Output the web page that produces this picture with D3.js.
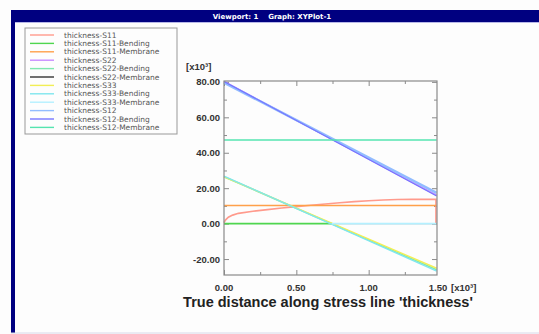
<!DOCTYPE html>
<html>
<head>
<meta charset="utf-8">
<script src="https://cdn.jsdelivr.net/npm/d3@7"></script>
<style>
  body { margin: 0; background: #fdfdfd; }
  svg { display: block; }
</style>
</head>
<body>
<div id="chart"></div>
<script>
// legend names and colours (same order as the legend)
const seriesNames = [
  "thickness-S11", "thickness-S11-Bending", "thickness-S11-Membrane",
  "thickness-S22", "thickness-S22-Bending", "thickness-S22-Membrane",
  "thickness-S33", "thickness-S33-Bending", "thickness-S33-Membrane",
  "thickness-S12", "thickness-S12-Bending", "thickness-S12-Membrane"
];
const seriesColors = [
  "#ff9a8c", "#4fd64f", "#ffa04a",
  "#c88cff", "#7fe8b0", "#333333",
  "#f2ee55", "#7fe6ee", "#b4f0ff",
  "#92bcff", "#7474ff", "#55e4b0"
];

// x values (thickness, x10^3) and y values (stress, x10^6) per series
const s11X = [0, 0.01, 0.03, 0.06, 0.1, 0.2, 0.3, 0.4, 0.5, 0.6, 0.7, 0.8, 0.9, 1.0, 1.1, 1.2, 1.3, 1.4, 1.465, 1.465];
const s11Y = [0.5, 2.0, 3.6, 4.8, 5.8, 7.0, 7.9, 8.8, 9.6, 10.4, 11.1, 11.8, 12.4, 12.9, 13.3, 13.6, 13.7, 13.7, 13.7, 0];
const s11BendX = [0, 0.745];
const s11BendY = [0, 0];
const s11MemX = [0, 1.47];
const s11MemY = [10.2, 10.2];
const s22X = [0, 1.47];
const s22Y = [80.2, 16.0];
const s22BendX = [0, 1.47];
const s22BendY = [26.5, -26.0];
const s22MemX = [0.745, 1.47];
const s22MemY = [0, 0];
const s33X = [0, 1.47];
const s33Y = [26.4, -25.2];
const s33BendX = [0, 1.47];
const s33BendY = [26.8, -26.8];
const s33MemX = [0.745, 1.47];
const s33MemY = [0, 0];
const s12X = [0, 1.47];
const s12Y = [79.6, 17.4];
const s12BendX = [0, 1.47];
const s12BendY = [80.2, 15.6];
const s12MemX = [0, 1.47];
const s12MemY = [47.2, 47.2];

const seriesX = [s11X, s11BendX, s11MemX, s22X, s22BendX, s22MemX, s33X, s33BendX, s33MemX, s12X, s12BendX, s12MemX];
const seriesY = [s11Y, s11BendY, s11MemY, s22Y, s22BendY, s22MemY, s33Y, s33BendY, s33MemY, s12Y, s12BendY, s12MemY];

const xTicks = [0, 0.5, 1.0, 1.5];
const xMinorTicks = [0.25, 0.75, 1.25];
const yTicks = [-20, 0, 20, 40, 60, 80];
const yMinorTicks = [-10, 10, 30, 50, 70];

const titleText = "Viewport: 1    Graph: XYPlot-1";
const xTitle = "True distance along stress line 'thickness'";
const unitLabel = "[x10\u00b3]";

const config = {
  width: 539,
  height: 334,
  plot: { left: 224, right: 437, top: 81, bottom: 275 },
  legend: { x: 25, y: 28, width: 152, height: 106, rowStep: 8.4 }
};

const svg = d3.select("#chart")
  .append("svg")
  .attr("width", config.width)
  .attr("height", config.height);

// -- Window frame --
svg.append("rect")
  .attr("x", 11).attr("y", 10)
  .attr("width", config.width - 11).attr("height", 323)
  .style("fill", "#fdfdfd");
svg.append("rect")
  .attr("x", 11).attr("y", 10)
  .attr("width", config.width - 11).attr("height", 12)
  .style("fill", "#000080");
svg.append("line")
  .attr("x1", 15).attr("x2", config.width)
  .attr("y1", 22.5).attr("y2", 22.5)
  .style("stroke", "#b8b8e8");
svg.append("rect")
  .attr("x", 11).attr("y", 10)
  .attr("width", 4).attr("height", 323)
  .style("fill", "#000080");
svg.append("line")
  .attr("x1", 11).attr("x2", config.width)
  .attr("y1", 333).attr("y2", 333)
  .style("stroke", "#d8d8e8");
svg.append("text")
  .attr("x", 272).attr("y", 19)
  .attr("text-anchor", "middle")
  .style("font-family", "'DejaVu Sans', sans-serif")
  .style("font-size", "7px")
  .style("font-weight", "bold")
  .style("fill", "#ffffff")
  .style("white-space", "pre")
  .text(titleText);

// -- Scales --
const p = config.plot;
const xScale = d3.scaleLinear().domain([0, 1.5]).range([p.left, 441]);
const yScale = d3.scaleLinear().domain([-29, 80.5]).range([p.bottom, p.top]);

// -- Frame and ticks (ticks point inwards) --
const frameColor = "#8a8a8a";
const majorX = xTicks.filter((d) => xScale(d) < p.right);

const tickGroup = (axis, tx, ty) => {
  svg.append("g")
    .attr("transform", `translate(${tx}, ${ty})`)
    .call(axis)
    .call((g) => g.select(".domain").remove())
    .call((g) => g.selectAll("line").style("stroke", frameColor));
};
tickGroup(d3.axisTop(xScale).tickValues(majorX).tickSize(5).tickFormat(""), 0, p.bottom);
tickGroup(d3.axisTop(xScale).tickValues(xMinorTicks).tickSize(3).tickFormat(""), 0, p.bottom);
tickGroup(d3.axisBottom(xScale).tickValues(majorX).tickSize(5).tickFormat(""), 0, p.top);
tickGroup(d3.axisBottom(xScale).tickValues(xMinorTicks).tickSize(3).tickFormat(""), 0, p.top);
tickGroup(d3.axisRight(yScale).tickValues(yTicks).tickSize(5).tickFormat(""), p.left, 0);
tickGroup(d3.axisRight(yScale).tickValues(yMinorTicks).tickSize(3).tickFormat(""), p.left, 0);
tickGroup(d3.axisLeft(yScale).tickValues(yTicks).tickSize(5).tickFormat(""), p.right, 0);
tickGroup(d3.axisLeft(yScale).tickValues(yMinorTicks).tickSize(3).tickFormat(""), p.right, 0);

// -- Series lines --
const line = d3.line()
  .x((d) => xScale(d[0]))
  .y((d) => yScale(d[1]));

const widths = [1.6, 1.6, 1.6, 1.6, 1.6, 1, 1.4, 1.4, 1.6, 2.6, 1.2, 1.6];

seriesNames.forEach((name, i) => {
  const pts = seriesX[i].map((x, j) => [x, seriesY[i][j]]);
  svg.append("path")
    .datum(pts)
    .attr("d", line)
    .style("fill", "none")
    .style("stroke", seriesColors[i])
    .style("stroke-width", widths[i]);
});

svg.append("rect")
  .attr("x", p.left).attr("y", p.top)
  .attr("width", p.right - p.left).attr("height", p.bottom - p.top)
  .style("fill", "none")
  .style("stroke", frameColor)
  .style("stroke-width", 1.2);

// -- Tick labels --
const labelFont = "'Liberation Sans', Arial, sans-serif";
svg.selectAll(".ylabel")
  .data(yTicks)
  .enter()
  .append("text")
  .attr("class", "ylabel")
  .attr("x", p.left - 4)
  .attr("y", (d) => yScale(d) + 3.5)
  .attr("text-anchor", "end")
  .style("font-family", labelFont)
  .style("font-size", "9.5px")
  .style("font-weight", "bold")
  .style("fill", "#333")
  .text((d) => d.toFixed(2));

svg.selectAll(".xlabel")
  .data(xTicks)
  .enter()
  .append("text")
  .attr("class", "xlabel")
  .attr("x", (d) => Math.min(xScale(d), p.right + 1))
  .attr("y", 291)
  .attr("text-anchor", "middle")
  .style("font-family", labelFont)
  .style("font-size", "9.5px")
  .style("font-weight", "bold")
  .style("fill", "#333")
  .text((d) => d.toFixed(2));

svg.append("text")
  .attr("x", 186).attr("y", 70)
  .style("font-family", labelFont)
  .style("font-size", "9.5px")
  .style("font-weight", "bold")
  .style("fill", "#333")
  .text(unitLabel);

svg.append("text")
  .attr("x", 451).attr("y", 291)
  .style("font-family", labelFont)
  .style("font-size", "9.5px")
  .style("font-weight", "bold")
  .style("fill", "#333")
  .text(unitLabel);

svg.append("text")
  .attr("x", 328).attr("y", 307)
  .attr("text-anchor", "middle")
  .style("font-family", labelFont)
  .style("font-size", "14.5px")
  .style("font-weight", "bold")
  .style("fill", "#222")
  .text(xTitle);

// -- Legend --
const lg = config.legend;
svg.append("rect")
  .attr("x", lg.x).attr("y", lg.y)
  .attr("width", lg.width).attr("height", lg.height)
  .style("fill", "none")
  .style("stroke", "#999")
  .style("stroke-width", 1);

const rows = svg.selectAll(".legend-row")
  .data(seriesNames)
  .enter()
  .append("g")
  .attr("class", "legend-row")
  .attr("transform", (d, i) => `translate(${lg.x}, ${lg.y + 7 + i * lg.rowStep})`);

rows.append("line")
  .attr("x1", 5).attr("x2", 29)
  .attr("y1", 0).attr("y2", 0)
  .style("stroke", (d, i) => seriesColors[i])
  .style("stroke-width", 1.4);

rows.append("text")
  .attr("x", 39)
  .attr("y", 2.5)
  .style("font-family", "'DejaVu Sans', sans-serif")
  .style("font-size", "7.5px")
  .style("fill", "#555")
  .text((d) => d);
</script>
</body>
</html>
